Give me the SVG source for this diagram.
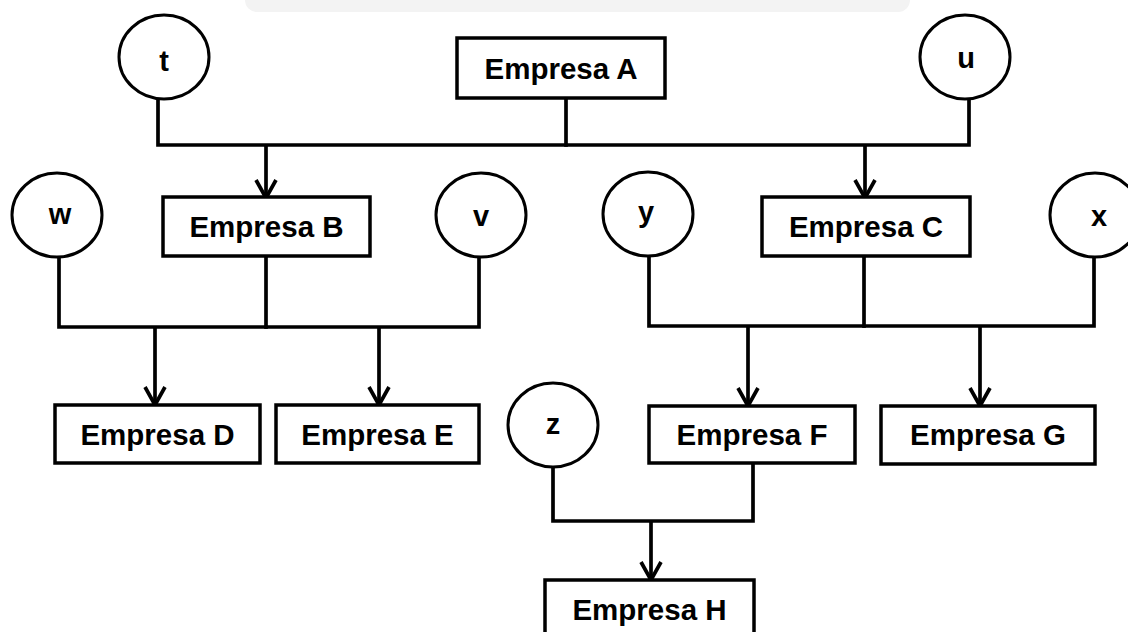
<svg xmlns="http://www.w3.org/2000/svg" width="1128" height="632" viewBox="0 0 1128 632">
  <style>
    .box { fill: #ffffff; stroke: #000000; stroke-width: 3.5; }
    .circ { fill: #ffffff; stroke: #000000; stroke-width: 3; }
    .lbl { font-family: "Liberation Sans", Arial, sans-serif; font-weight: bold; font-size: 29.5px; fill: #000000; text-anchor: middle; }
    .clbl { font-family: "Liberation Sans", Arial, sans-serif; font-weight: bold; font-size: 29px; fill: #000000; text-anchor: middle; }
    .wire { fill: none; stroke: #000000; stroke-width: 3.7; stroke-linejoin: miter; stroke-linecap: square; }
    .arrow { fill: none; stroke: #000000; stroke-width: 3.7; marker-end: url(#head); }
  </style>
  <defs>
    <marker id="head" markerUnits="userSpaceOnUse" viewBox="0 0 24 26" markerWidth="24" markerHeight="26" refX="21" refY="13" orient="auto">
      <path d="M3,3 L21,13 L3,23" fill="none" stroke="#000000" stroke-width="3.7" stroke-linejoin="miter"/>
    </marker>
  </defs>
  <rect x="0" y="0" width="1128" height="632" fill="#ffffff"/>
  <rect x="245" y="-12" width="665" height="24" rx="12" fill="#f3f3f3"/>

  <g id="connectors">
    <path class="wire" d="M158,99 V145 H969 V99"/>
    <path class="wire" d="M566,98 V145"/>
    <path class="arrow" d="M266,145 V198"/>
    <path class="arrow" d="M865,145 V198"/>

    <path class="wire" d="M59,257 V327 H479 V257"/>
    <path class="wire" d="M266,256 V327"/>
    <path class="arrow" d="M155,327 V405"/>
    <path class="arrow" d="M379,327 V405"/>

    <path class="wire" d="M649,256 V326 H1094 V257"/>
    <path class="wire" d="M864,256 V326"/>
    <path class="arrow" d="M748,326 V406"/>
    <path class="arrow" d="M980,326 V406"/>

    <path class="wire" d="M553,467 V521 H753 V463"/>
    <path class="arrow" d="M651,521 V580"/>
  </g>

  <g id="t"><ellipse class="circ" cx="164" cy="57" rx="45" ry="42"/><text class="clbl" x="164" y="71">t</text></g>
  <g id="u"><ellipse class="circ" cx="965" cy="57" rx="45" ry="42"/><text class="clbl" x="966" y="68">u</text></g>
  <g id="w"><ellipse class="circ" cx="57" cy="215" rx="45" ry="42"/><text class="clbl" x="60" y="224">w</text></g>
  <g id="v"><ellipse class="circ" cx="481" cy="215" rx="45" ry="42"/><text class="clbl" x="481" y="226">v</text></g>
  <g id="y"><ellipse class="circ" cx="648" cy="214" rx="45" ry="42"/><text class="clbl" x="646" y="222">y</text></g>
  <g id="x"><ellipse class="circ" cx="1095" cy="215" rx="45" ry="42"/><text class="clbl" x="1099" y="226">x</text></g>
  <g id="z"><ellipse class="circ" cx="553" cy="425" rx="45" ry="42"/><text class="clbl" x="553" y="434">z</text></g>

  <g id="empresaA"><rect class="box" x="457" y="38" width="208" height="60"/><text class="lbl" x="561" y="78.5">Empresa A</text></g>
  <g id="empresaB"><rect class="box" x="163" y="197" width="207" height="59"/><text class="lbl" x="266.5" y="237">Empresa B</text></g>
  <g id="empresaC"><rect class="box" x="762" y="197" width="208" height="59"/><text class="lbl" x="866" y="237">Empresa C</text></g>
  <g id="empresaD"><rect class="box" x="55" y="405" width="205" height="58"/><text class="lbl" x="157.5" y="444.5">Empresa D</text></g>
  <g id="empresaE"><rect class="box" x="276" y="405" width="203" height="58"/><text class="lbl" x="377.5" y="444.5">Empresa E</text></g>
  <g id="empresaF"><rect class="box" x="649" y="406" width="206" height="57"/><text class="lbl" x="752" y="445">Empresa F</text></g>
  <g id="empresaG"><rect class="box" x="881" y="406" width="214" height="58"/><text class="lbl" x="988" y="445">Empresa G</text></g>
  <g id="empresaH"><rect class="box" x="545" y="580" width="209" height="58"/><text class="lbl" x="649.5" y="619.5">Empresa H</text></g>
</svg>
